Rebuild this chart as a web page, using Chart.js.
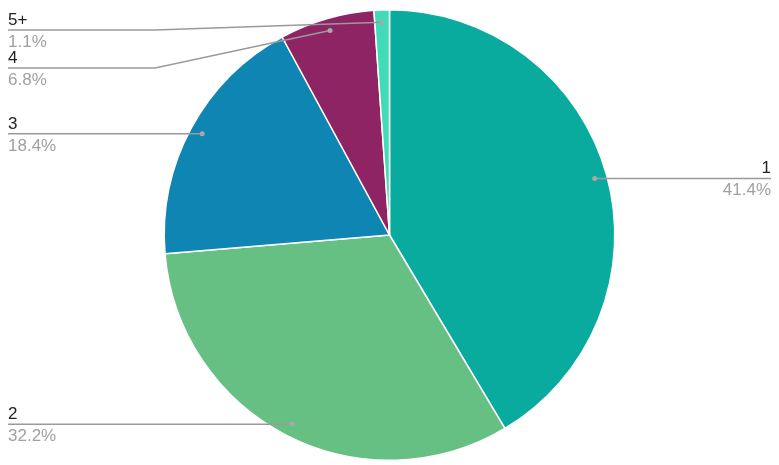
<!DOCTYPE html>
<html>
<head>
<meta charset="utf-8">
<script src="https://cdn.jsdelivr.net/npm/chart.js@4"></script>
<style>
  html, body { margin: 0; padding: 0; background: #fff; }
  #wrap { width: 779px; height: 465px; }
</style>
</head>
<body>
<div id="wrap"><canvas id="pieChart"></canvas></div>
<script>
// data
var categories = ["1", "2", "3", "4", "5+"];
var percents = [41.4, 32.2, 18.4, 6.8, 1.1];
var colors = ["#0aab9f", "#67c083", "#0e85b3", "#8e2463", "#42dbb9"];

// leader lines + labels, drawn after the pie
var sideLabels = {
  id: 'sideLabels',
  afterDraw: function(chart) {
    var ctx = chart.ctx;
    var arcs = chart.getDatasetMeta(0).data;
    var left = [], right = [];
    arcs.forEach(function(arc, i) {
      var p = arc.getProps(['x', 'y', 'startAngle', 'endAngle', 'outerRadius'], true);
      var mid = (p.startAngle + p.endAngle) / 2;
      var r = p.outerRadius * 0.945;
      var item = {
        i: i,
        dx: p.x + Math.cos(mid) * r,
        dy: p.y + Math.sin(mid) * r
      };
      (item.dx < p.x ? left : right).push(item);
    });

    function stack(list) {
      list.sort(function(a, b) { return a.dy - b.dy; });
      var prev = -Infinity;
      list.forEach(function(it) {
        it.ly = Math.max(it.dy, prev + 38, 30);
        prev = it.ly;
      });
    }
    stack(left); stack(right);

    ctx.save();
    ctx.lineWidth = 1.5;
    ctx.strokeStyle = '#9a9a9a';
    ctx.font = '17px "Liberation Sans", Arial, sans-serif';

    function drawOne(it, side) {
      var x0 = side === 'left' ? 8 : 771;
      ctx.beginPath();
      ctx.moveTo(x0, it.ly);
      if (Math.abs(it.ly - it.dy) > 1) {
        ctx.lineTo(side === 'left' ? 155 : 620, it.ly);
      }
      ctx.lineTo(it.dx, it.dy);
      ctx.stroke();
      ctx.fillStyle = '#a8a8a8';
      ctx.beginPath();
      ctx.arc(it.dx, it.dy, 2.5, 0, Math.PI * 2);
      ctx.fill();
      ctx.textAlign = side === 'left' ? 'left' : 'right';
      ctx.textBaseline = 'alphabetic';
      ctx.fillStyle = '#222';
      ctx.fillText(categories[it.i], x0, it.ly - 5);
      ctx.fillStyle = '#a0a0a0';
      ctx.fillText(percents[it.i].toFixed(1) + '%', x0, it.ly + 17);
    }
    left.forEach(function(it) { drawOne(it, 'left'); });
    right.forEach(function(it) { drawOne(it, 'right'); });
    ctx.restore();
  }
};

var ctxP = document.getElementById("pieChart").getContext('2d');
var myPieChart = new Chart(ctxP, {
  type: 'pie',
  data: {
    labels: categories,
    datasets: [{
      data: percents,
      backgroundColor: colors,
      borderColor: '#ffffff',
      borderWidth: 1.5
    }]
  },
  options: {
    responsive: true,
    maintainAspectRatio: false,
    animation: false,
    layout: { padding: { top: 9, bottom: 4, left: 0, right: 0 } },
    plugins: {
      legend: { display: false },
      tooltip: { enabled: false }
    }
  },
  plugins: [sideLabels]
});
</script>
</body>
</html>
